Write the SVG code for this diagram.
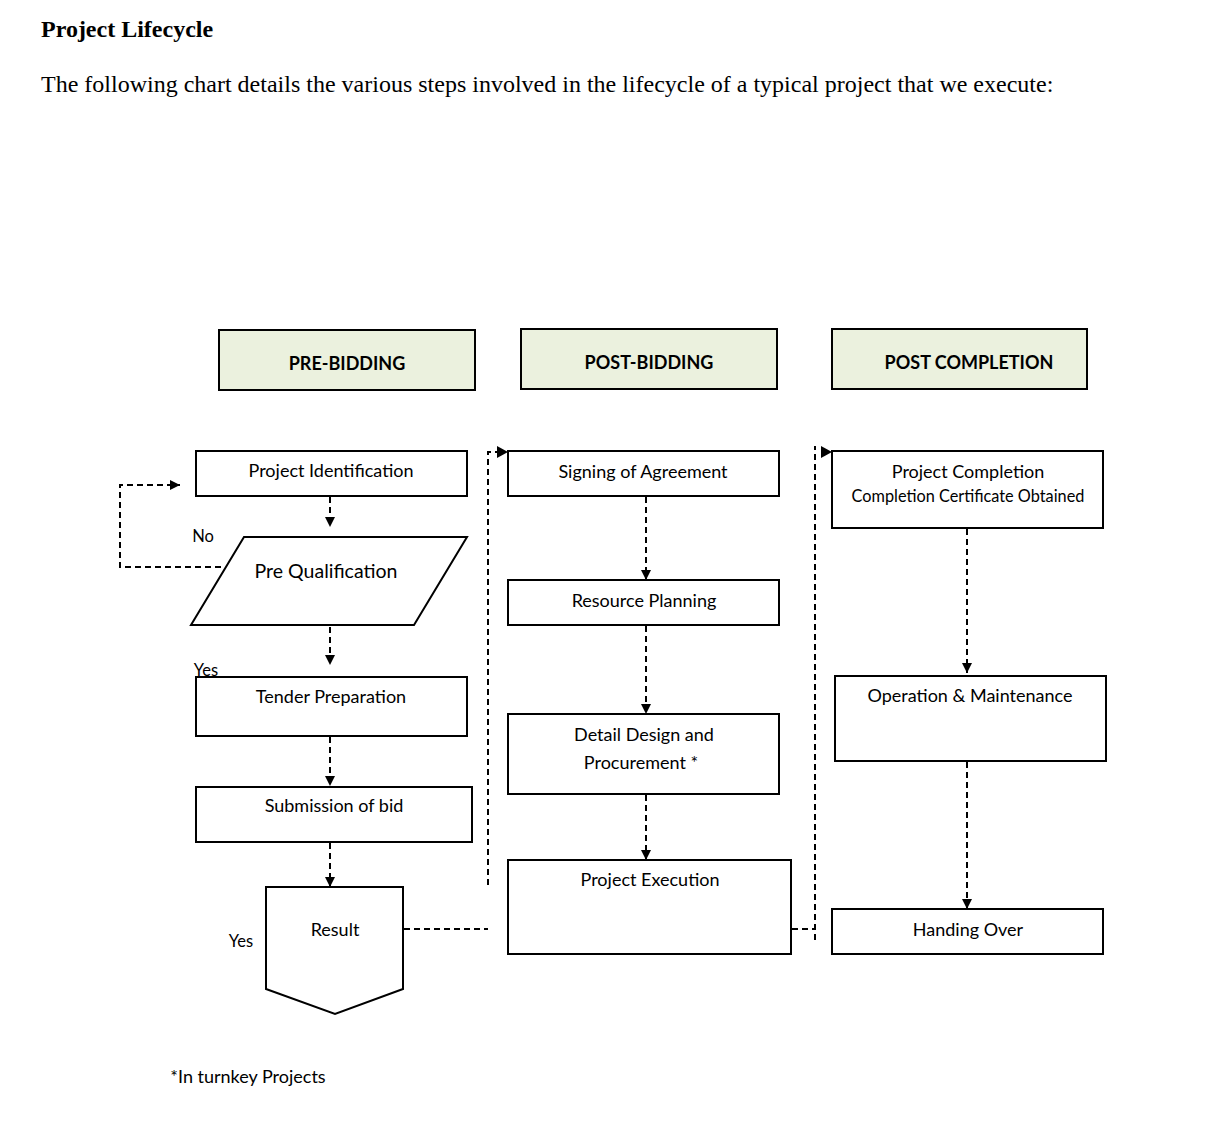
<svg xmlns="http://www.w3.org/2000/svg" width="1226" height="1132" viewBox="0 0 1226 1132">
<style>
.box{fill:#fff;stroke:#000;stroke-width:2}
.hdr{fill:#ebf1de;stroke:#000;stroke-width:2}
.t{font-family:Lato,"Liberation Sans",sans-serif;font-size:18px;fill:#000;text-anchor:middle}
.s{font-size:16.5px}
.ht{font-family:Lato,"Liberation Sans",sans-serif;font-size:18px;font-weight:bold;fill:#000;text-anchor:middle}
.d{fill:none;stroke:#000;stroke-width:2;stroke-dasharray:6 4}
.title{font-family:"Liberation Serif",serif;fill:#000;font-size:24px}
</style>
<defs>
<marker id="ah" viewBox="0 0 10 10" refX="10" refY="5" markerWidth="10" markerHeight="10" markerUnits="userSpaceOnUse" orient="auto">
<path d="M0,0 L10,5 L0,10 Z" fill="#000"/>
</marker>
</defs>
<rect width="1226" height="1132" fill="#fff"/>
<text class="title" x="41" y="37" font-weight="bold">Project Lifecycle</text>
<text class="title" x="41" y="92">The following chart details the various steps involved in the lifecycle of a typical project that we execute:</text>

<g id="hdr-pre"><rect class="hdr" x="219" y="330" width="256" height="60"/><text class="ht" x="347" y="370">PRE-BIDDING</text></g>
<g id="hdr-post"><rect class="hdr" x="521" y="329" width="256" height="60"/><text class="ht" x="649" y="369">POST-BIDDING</text></g>
<g id="hdr-comp"><rect class="hdr" x="832" y="329" width="255" height="60"/><text class="ht" x="969" y="369">POST COMPLETION</text></g>

<g id="connectors">
<path class="d" d="M330,497 V527" marker-end="url(#ah)"/>
<path class="d" d="M221,567 H120 V485 H180" marker-end="url(#ah)"/>
<path class="d" d="M330,627 V665" marker-end="url(#ah)"/>
<path class="d" d="M330,737 V786" marker-end="url(#ah)"/>
<path class="d" d="M330,843 V887" marker-end="url(#ah)"/>
<path class="d" d="M404,929 H488"/>
<path class="d" d="M488,885 V452 H497"/>
<path d="M497,446 L508,452 L497,458 Z" fill="#000"/>
<path class="d" d="M646,497 V580" marker-end="url(#ah)"/>
<path class="d" d="M646,626 V714" marker-end="url(#ah)"/>
<path class="d" d="M646,795 V860" marker-end="url(#ah)"/>
<path class="d" d="M792,929 H815"/>
<path class="d" d="M815,940 V446"/>
<path d="M821,446 L832,452 L821,458 Z" fill="#000"/>
<path class="d" d="M967,529 V673" marker-end="url(#ah)"/>
<path class="d" d="M967,762 V909" marker-end="url(#ah)"/>
</g>

<g id="n-ident"><rect class="box" x="196" y="451" width="271" height="45"/><text class="t" x="331" y="477">Project Identification</text></g>
<g id="n-prequal"><path class="box" d="M244,537 H467 L414,625 H191 Z"/><text class="t" x="326" y="578" style="font-size:19.5px">Pre Qualification</text></g>
<text class="t s" x="203" y="542">No</text>
<text class="t s" x="206" y="676">Yes</text>
<g id="n-tender"><rect class="box" x="196" y="677" width="271" height="59"/><text class="t" x="331" y="703">Tender Preparation</text></g>
<g id="n-submit"><rect class="box" x="196" y="787" width="276" height="55"/><text class="t" x="334" y="812">Submission of bid</text></g>
<g id="n-result"><path class="box" d="M266,887 H403 V989 L335,1014 L266,989 Z"/><text class="t" x="335" y="936">Result</text></g>
<text class="t s" x="241" y="947">Yes</text>

<g id="n-sign"><rect class="box" x="508" y="451" width="271" height="45"/><text class="t" x="643" y="478">Signing of Agreement</text></g>
<g id="n-resource"><rect class="box" x="508" y="580" width="271" height="45"/><text class="t" x="644" y="607">Resource Planning</text></g>
<g id="n-design"><rect class="box" x="508" y="714" width="271" height="80"/><text class="t" x="644" y="741">Detail Design and</text><text class="t" x="641" y="769">Procurement *</text></g>
<g id="n-exec"><rect class="box" x="508" y="860" width="283" height="94"/><text class="t" x="650" y="886">Project Execution</text></g>

<g id="n-completion"><rect class="box" x="832" y="451" width="271" height="77"/><text class="t" x="968" y="478">Project Completion</text><text class="t" x="968" y="502" style="font-size:16.3px">Completion Certificate Obtained</text></g>
<g id="n-om"><rect class="box" x="835" y="676" width="271" height="85"/><text class="t" x="970" y="702">Operation &amp; Maintenance</text></g>
<g id="n-hand"><rect class="box" x="832" y="909" width="271" height="45"/><text class="t" x="968" y="936">Handing Over</text></g>

<text class="t" x="248" y="1083">*In turnkey Projects</text>
</svg>
